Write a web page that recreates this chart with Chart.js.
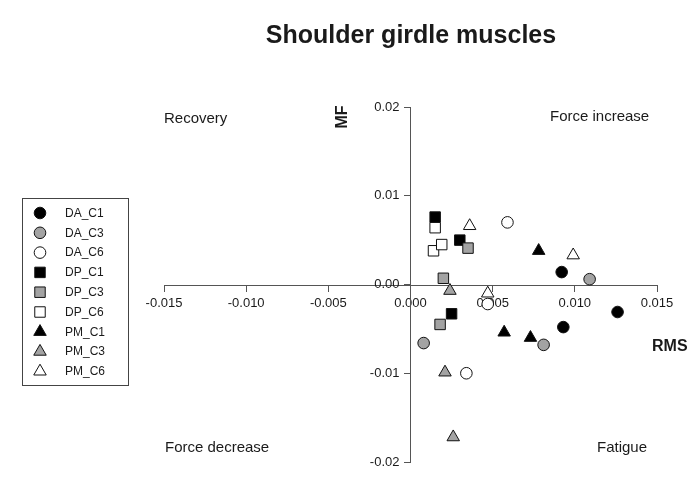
<!DOCTYPE html>
<html>
<head>
<meta charset="utf-8">
<script src="https://cdn.jsdelivr.net/npm/chart.js@4/dist/chart.umd.min.js"></script>
<style>
  html, body { margin: 0; padding: 0; background: #ffffff; }
  #wrap { width: 692px; height: 492px; }
</style>
</head>
<body>
<div id="wrap"><canvas id="c" width="692" height="492"></canvas></div>
<script>
// Change in RMS (x) and median frequency MF (y) per muscle and condition
const seriesNames = ['DA_C1', 'DA_C3', 'DA_C6', 'DP_C1', 'DP_C3', 'DP_C6', 'PM_C1', 'PM_C3', 'PM_C6'];

const DA_C1_rms = [0.0092, 0.0126, 0.0093];
const DA_C1_mf  = [0.0014, -0.0031, -0.0048];
const DA_C3_rms = [0.0109, 0.0081, 0.0008];
const DA_C3_mf  = [0.0006, -0.0068, -0.0066];
const DA_C6_rms = [0.0059, 0.0047, 0.0034];
const DA_C6_mf  = [0.0070, -0.0022, -0.0100];
const DP_C1_rms = [0.0015, 0.0030, 0.0025];
const DP_C1_mf  = [0.0076, 0.0050, -0.0033];
const DP_C3_rms = [0.0035, 0.0020, 0.0018];
const DP_C3_mf  = [0.0041, 0.0007, -0.0045];
const DP_C6_rms = [0.0015, 0.0014, 0.0019];
const DP_C6_mf  = [0.0064, 0.0038, 0.0045];
const PM_C1_rms = [0.0078, 0.0057, 0.0073];
const PM_C1_mf  = [0.0038, -0.0054, -0.0060];
const PM_C3_rms = [0.0024, 0.0021, 0.0026];
const PM_C3_mf  = [-0.0007, -0.0099, -0.0172];
const PM_C6_rms = [0.0036, 0.0099, 0.0047];
const PM_C6_mf  = [0.0066, 0.0033, -0.0010];

const rmsValues = [DA_C1_rms, DA_C3_rms, DA_C6_rms, DP_C1_rms, DP_C3_rms, DP_C6_rms, PM_C1_rms, PM_C3_rms, PM_C6_rms];
const mfValues  = [DA_C1_mf, DA_C3_mf, DA_C6_mf, DP_C1_mf, DP_C3_mf, DP_C6_mf, PM_C1_mf, PM_C3_mf, PM_C6_mf];

const xTickValues = [-0.015, -0.010, -0.005, 0.000, 0.005, 0.010, 0.015];
const yTickValues = [-0.02, -0.01, 0.00, 0.01, 0.02];

const chartTitle = 'Shoulder girdle muscles';
const xTitle = 'RMS';
const yTitle = 'MF';
const quadrantLabels = ['Recovery', 'Force increase', 'Force decrease', 'Fatigue'];

// Marker look: C1 black, C3 grey, C6 white; DA circle, DP square, PM triangle
const fillByCondition = { C1: '#000000', C3: '#a3a3a3', C6: '#ffffff' };
const styleByMuscle = { DA: 'circle', DP: 'rect', PM: 'triangle' };
const radiusByStyle = { circle: 5.8, rect: 7.4, triangle: 7.2 };

const FONT = '"Liberation Sans", Arial, Helvetica, sans-serif';
const AXIS_COLOR = '#555555';
const TEXT_COLOR = '#1a1a1a';

const datasets = seriesNames.map((name, i) => {
  const [muscle, cond] = name.split('_');
  const style = styleByMuscle[muscle];
  return {
    label: name,
    data: rmsValues[i].map((x, k) => ({ x: x, y: mfValues[i][k] })),
    pointStyle: style,
    pointRadius: radiusByStyle[style],
    pointHoverRadius: radiusByStyle[style],
    backgroundColor: fillByCondition[cond],
    borderColor: '#111111',
    pointBorderWidth: 1,
    showLine: false,
    order: seriesNames.length - 1 - i,
    clip: false
  };
});

// Legend symbols, same shapes as the chart's point styles
function drawMarker(ctx, style, x, y, r) {
  ctx.beginPath();
  if (style === 'circle') {
    ctx.arc(x, y, r, 0, Math.PI * 2);
  } else if (style === 'rect') {
    const s = r * Math.SQRT1_2;
    ctx.rect(x - s, y - s, 2 * s, 2 * s);
  } else {
    const h = Math.sin(Math.PI / 3) * r;
    ctx.moveTo(x, y - r);
    ctx.lineTo(x + h, y + r / 2);
    ctx.lineTo(x - h, y + r / 2);
    ctx.closePath();
  }
  ctx.fill();
  ctx.stroke();
}

const annotations = {
  id: 'annotations',
  afterDraw(chart) {
    const ctx = chart.ctx;
    ctx.save();
    ctx.fillStyle = TEXT_COLOR;

    // title
    ctx.font = 'bold 25px ' + FONT;
    ctx.textAlign = 'center';
    ctx.textBaseline = 'alphabetic';
    ctx.fillText(chartTitle, 411, 43);

    // quadrant captions
    ctx.font = '15px ' + FONT;
    ctx.textAlign = 'left';
    ctx.fillText(quadrantLabels[0], 164, 123);
    ctx.fillText(quadrantLabels[1], 550, 121);
    ctx.fillText(quadrantLabels[2], 165, 452);
    ctx.fillText(quadrantLabels[3], 597, 452);

    // axis titles
    ctx.font = 'bold 16px ' + FONT;
    ctx.textAlign = 'left';
    ctx.fillText(xTitle, 652, 351);
    ctx.save();
    ctx.translate(347, 117);
    ctx.rotate(-Math.PI / 2);
    ctx.textAlign = 'center';
    ctx.fillText(yTitle, 0, 0);
    ctx.restore();

    // legend box
    const bx = 22, by = 198, bw = 106, bh = 187;
    ctx.strokeStyle = '#444444';
    ctx.lineWidth = 1;
    ctx.strokeRect(bx + 0.5, by + 0.5, bw, bh);
    ctx.font = '12px ' + FONT;
    ctx.textBaseline = 'middle';
    chart.data.datasets.forEach((ds, i) => {
      const y = 213 + i * 19.8;
      ctx.fillStyle = ds.backgroundColor;
      ctx.strokeStyle = ds.borderColor;
      ctx.lineWidth = 1;
      drawMarker(ctx, ds.pointStyle, 40, y, ds.pointRadius);
      ctx.fillStyle = TEXT_COLOR;
      ctx.fillText(ds.label, 65, y + 0.5);
    });
    ctx.restore();
  }
};

const axisCommon = {
  type: 'linear',
  grid: { drawOnChartArea: false, drawTicks: true, tickLength: 6, color: AXIS_COLOR, lineWidth: 1 },
  border: { display: true, color: AXIS_COLOR, width: 1 }
};

// Both ranges are symmetric, so the 'center' position puts each axis through zero
new Chart(document.getElementById('c'), {
  type: 'scatter',
  data: { datasets: datasets },
  options: {
    responsive: false,
    animation: false,
    devicePixelRatio: 1,
    layout: { padding: { left: 164, right: 35, top: 107, bottom: 30 } },
    plugins: { legend: { display: false }, title: { display: false }, tooltip: { enabled: false } },
    scales: {
      x: Object.assign({}, axisCommon, {
        min: -0.015, max: 0.015,
        position: 'center',
        afterBuildTicks(scale) { scale.ticks = xTickValues.map(v => ({ value: v })); },
        ticks: {
          autoSkip: false, maxRotation: 0, padding: 5,
          color: TEXT_COLOR, font: { family: FONT, size: 13 },
          callback: v => Number(v).toFixed(3)
        }
      }),
      y: Object.assign({}, axisCommon, {
        min: -0.02, max: 0.02,
        position: 'center',
        afterBuildTicks(scale) { scale.ticks = yTickValues.map(v => ({ value: v })); },
        ticks: {
          autoSkip: false, padding: 5,
          color: TEXT_COLOR, font: { family: FONT, size: 13 },
          callback: v => Number(v).toFixed(2)
        }
      })
    }
  },
  plugins: [annotations]
});
</script>
</body>
</html>
